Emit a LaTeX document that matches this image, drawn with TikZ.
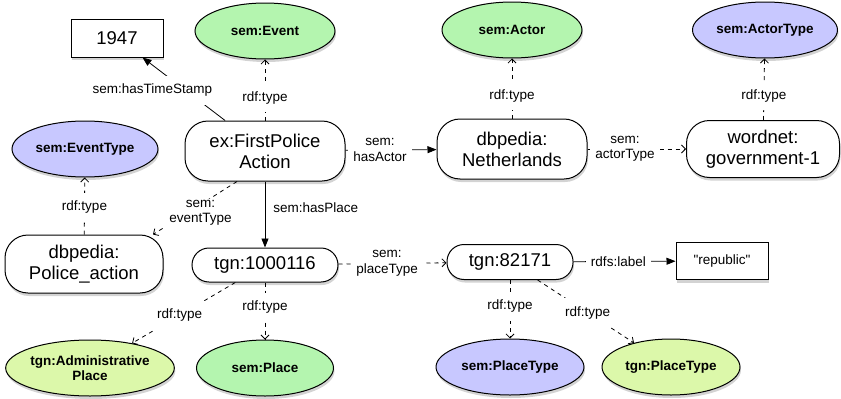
\documentclass[tikz,border=0pt]{standalone}
\usepackage{fontspec}
\setmainfont{Liberation Sans}
\usetikzlibrary{shapes.geometric,shadows,arrows.meta}

\definecolor{classgreen}{RGB}{180,245,175}
\definecolor{classblue}{RGB}{200,200,255}
\definecolor{classlime}{RGB}{220,248,170}

\tikzset{
  myshadow/.style={drop shadow={shadow xshift=1pt,shadow yshift=-3pt,opacity=0.35}},
  res/.style={draw,line width=1pt,rounded corners=23pt,fill=white,align=center,
    inner sep=0pt,font=\fontsize{18.5}{21}\selectfont,myshadow},
  cls/.style={ellipse,draw,line width=1pt,align=center,inner sep=0pt,
    minimum width=140pt,minimum height=56pt,
    font=\bfseries\fontsize{13.5}{15}\selectfont,myshadow},
  lit/.style={rectangle,draw,line width=1pt,fill=white,inner sep=0pt,myshadow},
  solidrel/.style={-{Triangle[length=9pt,width=7pt]}},
  dashrel/.style={dash pattern=on 4pt off 4pt,-{Straight Barb[length=4pt,width=8pt]}},
  twoline/.style={inner ysep=1pt}
}

\begin{document}
\begin{tikzpicture}[x=1pt,y=-1pt]

      \useasboundingbox (0,0) rectangle (841,399);

      % classes
      \node[cls,fill=classgreen] (event) at (265,31) {sem:Event};
      \node[cls,fill=classgreen] (actor) at (512,30) {sem:Actor};
      \node[cls,fill=classblue,minimum width=145pt] (actortype) at (765,30) {sem:ActorType};
      \node[cls,fill=classblue,minimum width=146pt] (eventtype) at (85,149) {sem:EventType};
      \node[cls,fill=classlime,minimum width=154pt] (admin) at (90,368) {tgn:Administrative\\Place};
      \node[cls,fill=classgreen,minimum width=137pt] (place) at (265,368) {sem:Place};
      \node[cls,fill=classblue,minimum width=148pt] (ptype) at (510,367) {sem:PlaceType};
      \node[cls,fill=classlime,minimum width=138pt] (tgnptype) at (671,367) {tgn:PlaceType};

      % resources
      \node[res,minimum width=160pt,minimum height=60pt] (fpa) at (265,151) {ex:FirstPolice\\Action};
      \node[res,minimum width=150pt,minimum height=60pt] (nl) at (512,149) {dbpedia:\\Netherlands};
      \node[res,minimum width=153pt,minimum height=57pt] (gov) at (763,149) {wordnet:\\government-1};
      \node[res,minimum width=158pt,minimum height=58pt] (pa) at (84,264) {dbpedia:\\Police\_action};
      \node[res,rounded corners=17pt,minimum width=146pt,minimum height=34pt] (tgnA) at (265,265) {tgn:1000116};
      \node[res,rounded corners=17pt,minimum width=126pt,minimum height=35pt] (tgnB) at (510,262) {tgn:82171};

      % literals
      \node[lit,minimum width=92pt,minimum height=38pt,font=\fontsize{18.5}{21}\selectfont] (year) at (117,38) {1947};
      \node[lit,minimum width=92pt,minimum height=37pt,font=\fontsize{13.5}{15}\selectfont] (rep) at (722,261) {\textquotedbl republic\textquotedbl};

      \begin{scope}[every node/.style={fill=white,align=center,inner xsep=5pt,inner ysep=8pt,
          font=\fontsize{13.5}{15.5}\selectfont}]

        \begin{scope}[every edge/.style={draw,line width=0.8pt}]
          \path (fpa)  edge[solidrel] node[pos=0.48,xshift=-33pt] {sem:hasTimeStamp} (year);
          \path (fpa)  edge[dashrel] node[pos=0.37] {rdf:type} (event);
          \path (fpa)  edge[solidrel] node[pos=0.38,twoline] {sem:\\hasActor} (nl);
          \path (nl)   edge[dashrel] node[pos=0.38] {rdf:type} (actor);
          \path (nl)   edge[dashrel] node[pos=0.38,twoline] {sem:\\actorType} (gov);
          \path (gov)  edge[dashrel] node[pos=0.39] {rdf:type} (actortype);
          \path ([xshift=-28pt]fpa.south) edge[dashrel] node[pos=0.59,xshift=13pt,twoline] {sem:\\eventType} ([xshift=69pt]pa.north);
          \path (pa)   edge[dashrel] node[pos=0.48] {rdf:type} (eventtype);
          \path (fpa)  edge[solidrel] node[pos=0.39,right,fill=none,inner xsep=8pt] {sem:hasPlace} (tgnA);
          \path (tgnA) edge[dashrel] node[pos=0.45,twoline] {sem:\\placeType} (tgnB);
          \path (tgnA) edge[dashrel] node[pos=0.54] {rdf:type} (admin);
          \path (tgnA) edge[dashrel] node[pos=0.43] {rdf:type} (place);
          \path (tgnB) edge[solidrel] node[pos=0.44] {rdfs:label} (rep);
          \path (tgnB) edge[dashrel] node[pos=0.45] {rdf:type} (ptype);
          \path (tgnB) edge[dashrel] node[pos=0.52] {rdf:type} (tgnptype);
        \end{scope}
      \end{scope}

    \end{tikzpicture}
\end{document}
